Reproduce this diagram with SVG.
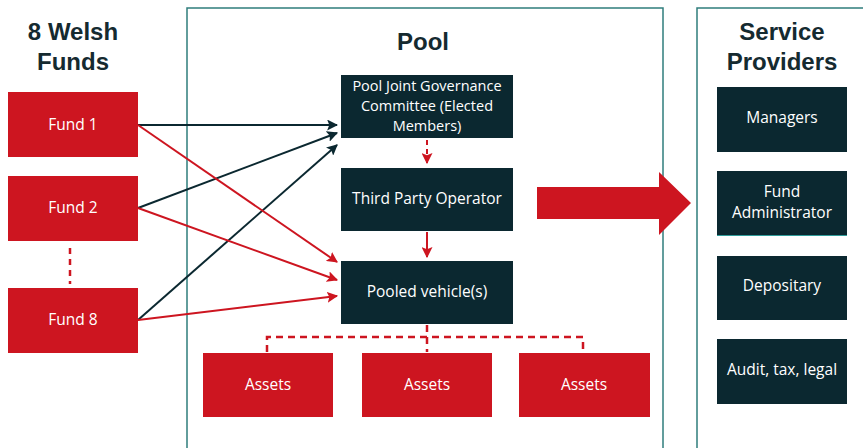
<svg xmlns="http://www.w3.org/2000/svg" width="863" height="448" viewBox="0 0 863 448">
<style>
.title{font-family:"Liberation Sans",Arial,sans-serif;font-weight:bold;font-size:24px;fill:#152a30;text-anchor:middle}
.lbl{font-family:"Open Sans","Noto Sans",sans-serif;font-size:15.5px;fill:#ffffff;text-anchor:middle}
.sm{font-size:14.5px}
.red{fill:#cd1520}
.dark{fill:#0b2830}
.frame{fill:none;stroke:#2f7d7c;stroke-width:1.5}
.cd{stroke:#0b2830;stroke-width:2;fill:none}
.cr{stroke:#cd1520;stroke-width:2;fill:none}
.dash{stroke:#cd1520;stroke-width:2.5;fill:none;stroke-dasharray:7,5}
</style>
<defs>
<marker id="ad" viewBox="0 0 10 10" refX="9" refY="5" markerWidth="5.5" markerHeight="5.5" orient="auto" markerUnits="strokeWidth"><path d="M0,0 L10,5 L0,10 L2,5 z" fill="#0b2830"/></marker>
<marker id="ar" viewBox="0 0 10 10" refX="9" refY="5" markerWidth="5.5" markerHeight="5.5" orient="auto" markerUnits="strokeWidth"><path d="M0,0 L10,5 L0,10 L2,5 z" fill="#cd1520"/></marker>
</defs>
<rect width="863" height="448" fill="#ffffff"/>
<g id="frames">
<rect class="frame" x="187" y="8" width="476" height="450"/>
<rect class="frame" x="697" y="8" width="180" height="450"/>
</g>
<g id="titles">
<text class="title" x="73" y="40">8 Welsh</text>
<text class="title" x="73" y="70">Funds</text>
<text class="title" x="423" y="50">Pool</text>
<text class="title" x="782" y="40">Service</text>
<text class="title" x="782" y="70">Providers</text>
</g>
<g id="connectors">
<line class="cd" x1="138" y1="125" x2="337" y2="125" marker-end="url(#ad)"/>
<line class="cd" x1="138" y1="208" x2="337" y2="133" marker-end="url(#ad)"/>
<line class="cd" x1="138" y1="320" x2="337" y2="145" marker-end="url(#ad)"/>
<line class="cr" x1="138" y1="125" x2="337" y2="262" marker-end="url(#ar)"/>
<line class="cr" x1="138" y1="208" x2="337" y2="280" marker-end="url(#ar)"/>
<line class="cr" x1="138" y1="320" x2="337" y2="296" marker-end="url(#ar)"/>
<line class="dash" x1="70" y1="248" x2="70" y2="284" style="stroke-dasharray:6,5"/>
<line x1="427" y1="140" x2="427" y2="163" stroke="#cd1520" stroke-width="2" style="stroke-dasharray:5,4" marker-end="url(#ar)"/>
<line class="cr" x1="427" y1="232" x2="427" y2="257" marker-end="url(#ar)"/>
<path class="dash" d="M427,325 V337"/>
<path class="dash" d="M267,352 V337 H583 V352"/>
<path class="dash" d="M427,337 V352"/>
<path class="red" d="M537,187 H659 V172 L691,203 L659,235 V219 H537 Z"/>
</g>
<g id="fund1"><rect class="red" x="8" y="92" width="130" height="65"/><text class="lbl" x="73" y="130">Fund 1</text></g>
<g id="fund2"><rect class="red" x="8" y="176" width="130" height="65"/><text class="lbl" x="73" y="213">Fund 2</text></g>
<g id="fund8"><rect class="red" x="8" y="288" width="130" height="65"/><text class="lbl" x="73" y="325">Fund 8</text></g>
<g id="governance"><rect class="dark" x="341" y="75" width="172" height="63"/>
<text class="lbl sm" x="427" y="91">Pool Joint Governance</text>
<text class="lbl sm" x="427" y="111">Committee (Elected</text>
<text class="lbl sm" x="427" y="131">Members)</text></g>
<g id="operator"><rect class="dark" x="341" y="168" width="172" height="63"/><text class="lbl" x="427" y="204">Third Party Operator</text></g>
<g id="pooled"><rect class="dark" x="341" y="261" width="172" height="63"/><text class="lbl" x="427" y="297">Pooled vehicle(s)</text></g>
<g id="assets1"><rect class="red" x="203" y="353" width="130" height="64"/><text class="lbl" x="268" y="390">Assets</text></g>
<g id="assets2"><rect class="red" x="362" y="353" width="130" height="64"/><text class="lbl" x="427" y="390">Assets</text></g>
<g id="assets3"><rect class="red" x="519" y="353" width="131" height="64"/><text class="lbl" x="584" y="390">Assets</text></g>
<g id="managers"><rect class="dark" x="717" y="87" width="130" height="65"/><text class="lbl" x="782" y="123">Managers</text></g>
<g id="fundadmin"><rect class="dark" x="717" y="171" width="130" height="65"/><line x1="717" y1="235.5" x2="847" y2="235.5" stroke="#2f9c9a" stroke-width="1"/>
<text class="lbl" x="782" y="197">Fund</text><text class="lbl" x="782" y="218">Administrator</text></g>
<g id="depositary"><rect class="dark" x="717" y="256" width="130" height="64"/><text class="lbl" x="782" y="291">Depositary</text></g>
<g id="audit"><rect class="dark" x="717" y="339" width="130" height="65"/><text class="lbl" x="782" y="375">Audit, tax, legal</text></g>
</svg>
